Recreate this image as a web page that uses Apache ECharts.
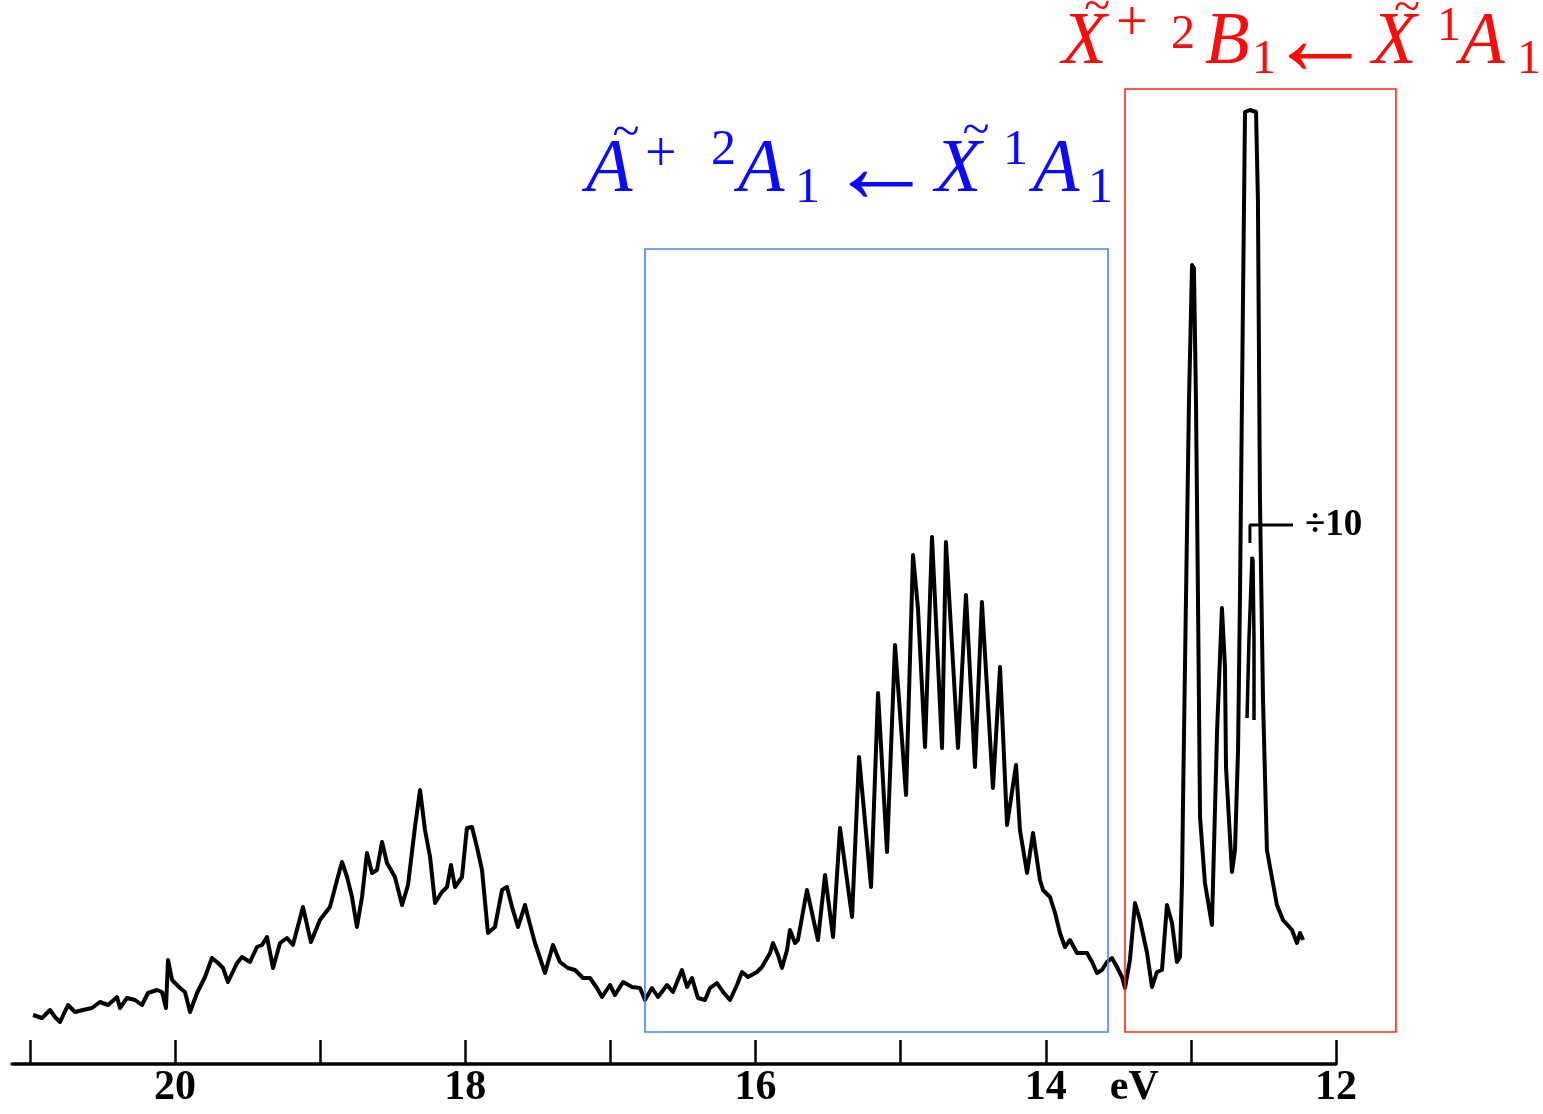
<!DOCTYPE html>
<html><head><meta charset="utf-8">
<script src="https://cdn.jsdelivr.net/npm/echarts@6/dist/echarts.min.js"></script>
<style>html,body{margin:0;padding:0;background:#fff}#c{width:1543px;height:1114px}</style>
</head><body><div id="c"></div>
<script>
// ---- data ----
const energy = [20.979,20.917,20.862,20.828,20.793,20.738,20.690,20.635,20.573,20.518,20.462,20.400,20.380,20.332,20.276,20.228,20.187,20.125,20.090,20.063,20.049,20.021,19.966,19.932,19.897,19.849,19.794,19.746,19.704,19.670,19.636,19.573,19.539,19.484,19.436,19.401,19.367,19.325,19.277,19.229,19.188,19.119,19.064,19.002,18.933,18.884,18.850,18.815,18.781,18.747,18.712,18.678,18.643,18.609,18.574,18.540,18.485,18.436,18.395,18.347,18.312,18.278,18.243,18.209,18.161,18.126,18.099,18.071,18.023,17.989,17.954,17.920,17.885,17.844,17.796,17.747,17.713,17.678,17.637,17.589,17.568,17.520,17.451,17.396,17.348,17.293,17.244,17.189,17.141,17.093,17.058,17.003,16.969,16.913,16.851,16.796,16.762,16.714,16.672,16.610,16.569,16.507,16.472,16.438,16.397,16.348,16.314,16.266,16.224,16.176,16.128,16.093,16.052,15.990,15.956,15.900,15.880,15.845,15.818,15.783,15.763,15.728,15.708,15.646,15.570,15.521,15.466,15.418,15.335,15.287,15.204,15.156,15.094,15.039,14.963,14.915,14.881,14.832,14.784,14.715,14.688,14.605,14.550,14.488,14.440,14.364,14.315,14.267,14.205,14.178,14.129,14.088,14.040,14.019,13.971,13.936,13.902,13.868,13.833,13.785,13.716,13.681,13.647,13.613,13.578,13.544,13.509,13.475,13.454,13.420,13.385,13.351,13.302,13.268,13.234,13.199,13.165,13.130,13.096,13.075,13.061,13.054,13.034,13.013,12.992,12.979,12.965,12.951,12.937,12.903,12.855,12.820,12.786,12.765,12.758,12.717,12.696,12.675,12.662,12.641,12.627,12.593,12.551,12.538,12.524,12.503,12.476,12.441,12.407,12.365,12.303,12.269,12.248,12.227];
const intensity = [49,46,54,47,42,59,52,54,56,62,59,67,56,66,64,59,71,74,72,56,104,84,76,72,52,71,87,106,101,96,82,101,107,102,117,119,127,96,121,126,119,157,122,144,157,184,202,187,167,137,167,211,191,194,222,201,187,159,179,237,274,234,207,161,172,177,199,177,187,236,237,217,194,131,137,174,177,157,137,159,147,121,91,119,102,96,94,86,86,76,67,79,69,82,77,76,64,76,67,79,72,94,77,86,66,64,76,81,72,64,79,92,87,92,97,111,121,109,96,114,134,121,124,174,124,189,127,236,147,307,177,371,212,419,269,509,456,317,527,316,522,316,469,297,462,276,397,239,299,234,191,231,184,174,167,151,131,117,124,111,111,102,91,94,102,106,97,87,76,104,161,144,111,77,92,94,159,141,102,107,184,264,464,664,799,796,664,464,247,181,139,331,456,397,297,192,214,314,464,764,952,954,952,864,564,364,214,186,159,144,134,121,131,124];
// peak redrawn at 1/10 scale
const scaledEnergy = [12.613,12.600,12.579,12.572,12.565,12.565];
const scaledIntensity = [346,424,507,504,424,344];
// "÷10" bracket
const bracketEnergy = [12.593,12.593,12.296];
const bracketIntensity = [521,539,539];
const scaleNote = {energy:12.214, intensity:539, text:'÷10'};
// axis
const tickValues = [21,20,19,18,17,16,15,14,13,12];
const labelValues = [20,18,16,14,13.39,12];
const labelTexts = ['20','18','16','14','eV','12'];
// boxed regions (eV range, intensity range)
const blueBox = {from:16.762, to:13.571, low:32, high:815};
const redBox  = {from:13.454, to:11.587, low:32, high:975};
</script>
<script>
const chart = echarts.init(document.getElementById('c'), null, {renderer:'canvas'});
const tickFont = '"Liberation Serif", "DejaVu Serif", serif';
chart.setOption({
  animation:false,
  backgroundColor:'#fff',
  grid:{left:12,right:207,top:64,bottom:50},
  xAxis:{type:'value',inverse:true,min:12,max:21.124,
    axisLine:{show:true,onZero:false,lineStyle:{color:'#000',width:3.5}},
    axisTick:{show:true,inside:true,length:24,customValues:tickValues,lineStyle:{color:'#000',width:2.5}},
    axisLabel:{customValues:labelValues,
      formatter:v=>{const i=labelValues.findIndex(u=>Math.abs(u-v)<1e-6);return i>=0?labelTexts[i]:'';},
      color:'#000',fontFamily:tickFont,fontWeight:'bold',fontSize:42,margin:3},
    splitLine:{show:false}},
  yAxis:{type:'value',min:0,max:1000,show:false},
  series:[
    {type:'line',data:energy.map((e,i)=>[e,intensity[i]]),showSymbol:false,symbol:'none',
     lineStyle:{color:'#000',width:4,join:'round'},z:5},
    {type:'line',data:scaledEnergy.map((e,i)=>[e,scaledIntensity[i]]),showSymbol:false,symbol:'none',
     lineStyle:{color:'#000',width:3.5},z:5},
    {type:'line',data:bracketEnergy.map((e,i)=>[e,bracketIntensity[i]]),showSymbol:false,symbol:'none',
     lineStyle:{color:'#000',width:3},z:5}
  ]
});

const P = (e,v)=>chart.convertToPixel({seriesIndex:0},[e,v]);
function rect(b,color){
  const a=P(b.from,b.high), c=P(b.to,b.low);
  const x=Math.min(a[0],c[0]), y=Math.min(a[1],c[1]);
  return {type:'rect',shape:{x:x,y:y,width:Math.abs(c[0]-a[0]),height:Math.abs(c[1]-a[1])},
    style:{fill:'none',stroke:color,lineWidth:1.6},z:10};
}
const serif='"Liberation Serif", "DejaVu Serif", serif';
function piece(p,color){
  const [txt,kind,size,x,y]=p;
  const center = kind==='c';
  const font=(kind==='i'?'italic ':'')+size+'px '+serif;
  return {type:'text',x:x,y:center?y:y-0.3375*size,z:10,
    style:{text:txt,font:font,fill:color,align:center?'center':'left',verticalAlign:'middle',
      textAlign:center?'center':'left',textVerticalAlign:'middle'}};
}
// label layouts: [text, kind(i=italic,n=upright,c=centred), size, x, baseline/centre y]
const blueLayout=[
  ['A','i',76,586,197],['~','c',50,626,134],['+','n',56,645,175],['2','n',50,711,168],
  ['A','i',76,738,197],['1','n',50,795,206],['\u2190','c',106,881,174],
  ['X','i',76,935,197],['~','c',50,976,132],['1','n',50,1003,168],
  ['A','i',76,1033,197],['1','n',50,1088,206]
];
const redLayout=[
  ['X','i',73,1062,68],['~','c',48,1097,8],['+','n',56,1116,44],['2','n',48,1171,52],
  ['B','i',73,1205,68],['1','n',48,1252,77],['\u2190','c',106,1320,46],
  ['X','i',73,1372,68],['~','c',48,1407,9],['1','n',48,1437,44],
  ['A','i',73,1460,68],['1','n',48,1517,77]
];
const np=P(scaleNote.energy,scaleNote.intensity);
const elements=[rect(blueBox,'#4a86f0'),rect(redBox,'#ff2a10')]
  .concat(blueLayout.map(p=>piece(p,'#0a0aff')))
  .concat(redLayout.map(p=>piece(p,'#ff0a0a')))
  .concat([{type:'text',x:np[0],y:np[1],z:10,style:{text:scaleNote.text,font:'bold 37px '+tickFont,fill:'#000',
     align:'left',verticalAlign:'middle',textAlign:'left',textVerticalAlign:'middle'}}]);
chart.setOption({graphic:{elements:elements}});
</script></body></html>
